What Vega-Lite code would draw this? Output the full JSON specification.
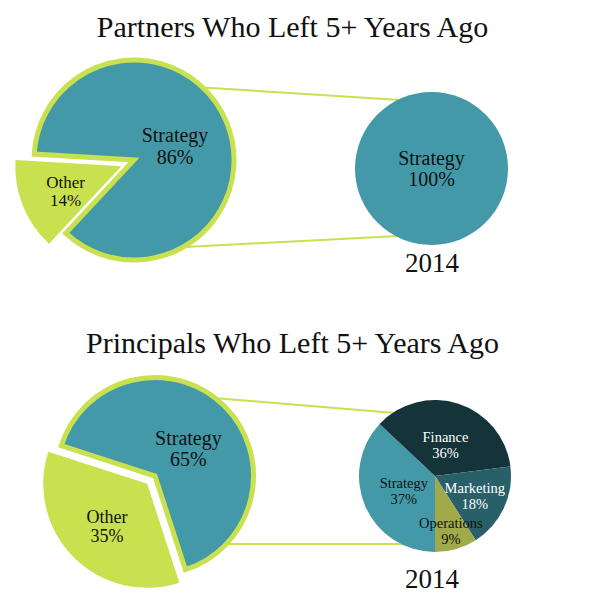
{
  "$schema": "https://vega.github.io/schema/vega-lite/v6.json",
  "width": 595,
  "height": 609,
  "padding": 0,
  "autosize": {"type": "none"},
  "background": "#ffffff",
  "config": {"view": {"stroke": null}, "text": {"font": "Liberation Serif"}},
  "datasets": {
    "slices": [
      {"group": "Partners", "pie": "5+ years ago", "category": "Strategy", "value": 86},
      {"group": "Partners", "pie": "5+ years ago", "category": "Other", "value": 14},
      {"group": "Partners", "pie": "2014", "category": "Strategy", "value": 100},
      {"group": "Principals", "pie": "5+ years ago", "category": "Strategy", "value": 65},
      {"group": "Principals", "pie": "5+ years ago", "category": "Other", "value": 35},
      {"group": "Principals", "pie": "2014", "category": "Strategy", "value": 37},
      {"group": "Principals", "pie": "2014", "category": "Finance", "value": 36},
      {"group": "Principals", "pie": "2014", "category": "Marketing", "value": 18},
      {"group": "Principals", "pie": "2014", "category": "Operations", "value": 9}
    ],
    "groups": [
      {"group": "Partners", "title": "Partners Who Left 5+ Years Ago", "pie": "2014"},
      {"group": "Principals", "title": "Principals Who Left 5+ Years Ago", "pie": "2014"}
    ]
  },
  "data": {"name": "slices"},
  "transform": [
    {"stack": "value", "groupby": ["group", "pie"], "sort": [{"field": "category", "order": "ascending"}], "as": ["v0", "v1"]},
    {"calculate": "(datum.v0 + datum.v1) / 2", "as": "mid"},
    {"calculate": "datum.category + '\\n' + datum.value + '%'", "as": "label"}
  ],
  "resolve": {"scale": {"theta": "independent"}},
  "layer": [
    {
      "data": {"name": "groups"},
      "transform": [{"filter": "datum.group === 'Partners'"}],
      "mark": {"type": "rule", "color": "#c9e14f", "strokeWidth": 2, "xOffset": 61, "x2Offset": -32, "yOffset": -73, "y2Offset": -60},
      "encoding": {
        "x": {"datum": "5+ years ago", "type": "nominal", "scale": {"type": "point", "domain": ["5+ years ago", "2014"], "range": [134, 432], "padding": 0}, "axis": null},
        "x2": {"datum": "2014"},
        "y": {"field": "group", "type": "nominal", "scale": {"type": "point", "domain": ["Partners", "Principals"], "range": [160, 476], "padding": 0}, "axis": null},
        "y2": {"field": "group"}
      }
    },
    {
      "data": {"name": "groups"},
      "transform": [{"filter": "datum.group === 'Partners'"}],
      "mark": {"type": "rule", "color": "#c9e14f", "strokeWidth": 2, "xOffset": 51, "x2Offset": -34, "yOffset": 87, "y2Offset": 76},
      "encoding": {
        "x": {"datum": "5+ years ago", "type": "nominal"},
        "x2": {"datum": "2014"},
        "y": {"field": "group", "type": "nominal"},
        "y2": {"field": "group"}
      }
    },
    {
      "data": {"name": "groups"},
      "transform": [{"filter": "datum.group === 'Principals'"}],
      "mark": {"type": "rule", "color": "#c9e14f", "strokeWidth": 2, "xOffset": 80, "x2Offset": -37, "yOffset": -78, "y2Offset": -63},
      "encoding": {
        "x": {"datum": "5+ years ago", "type": "nominal"},
        "x2": {"datum": "2014"},
        "y": {"field": "group", "type": "nominal"},
        "y2": {"field": "group"}
      }
    },
    {
      "data": {"name": "groups"},
      "transform": [{"filter": "datum.group === 'Principals'"}],
      "mark": {"type": "rule", "color": "#c9e14f", "strokeWidth": 2, "xOffset": 94, "x2Offset": -29, "yOffset": 68, "y2Offset": 68},
      "encoding": {
        "x": {"datum": "5+ years ago", "type": "nominal"},
        "x2": {"datum": "2014"},
        "y": {"field": "group", "type": "nominal"},
        "y2": {"field": "group"}
      }
    },
    {
      "transform": [{"filter": "datum.group === 'Partners' && datum.pie === '5+ years ago' && datum.category === 'Strategy'"}],
      "mark": {"type": "arc", "outerRadius": 100, "stroke": "#c9e14f", "strokeWidth": 5},
      "encoding": {
        "x": {"field": "pie", "type": "nominal"},
        "y": {"field": "group", "type": "nominal"},
        "theta": {"field": "v0", "type": "quantitative", "scale": {"domain": [0, 100], "range": [3.8921, 10.1753]}},
        "theta2": {"field": "v1"},
        "color": {"field": "category", "type": "nominal", "scale": {"domain": ["Strategy", "Other", "Finance", "Marketing", "Operations"], "range": ["#4399a7", "#c9e14f", "#15343a", "#295f68", "#a0aa4b"]}, "legend": null}
      }
    },
    {
      "transform": [{"filter": "datum.group === 'Partners' && datum.pie === '5+ years ago' && datum.category === 'Other'"}],
      "mark": {"type": "arc", "outerRadius": 106, "xOffset": -12.7, "yOffset": 6.3},
      "encoding": {
        "x": {"field": "pie", "type": "nominal"},
        "y": {"field": "group", "type": "nominal"},
        "theta": {"field": "v0", "type": "quantitative", "scale": {"domain": [0, 100], "range": [3.8921, 10.1753]}},
        "theta2": {"field": "v1"},
        "color": {"field": "category", "type": "nominal"}
      }
    },
    {
      "transform": [{"filter": "datum.group === 'Partners' && datum.pie === '2014'"}],
      "mark": {"type": "arc", "outerRadius": 76.5, "xOffset": -0.5, "yOffset": 8.5},
      "encoding": {
        "x": {"field": "pie", "type": "nominal"},
        "y": {"field": "group", "type": "nominal"},
        "theta": {"field": "v0", "type": "quantitative", "scale": {"domain": [0, 100], "range": [0, 6.2832]}},
        "theta2": {"field": "v1"},
        "color": {"field": "category", "type": "nominal"}
      }
    },
    {
      "transform": [{"filter": "datum.group === 'Principals' && datum.pie === '5+ years ago' && datum.category === 'Strategy'"}],
      "mark": {"type": "arc", "outerRadius": 98.5, "stroke": "#c9e14f", "strokeWidth": 5, "xOffset": 21},
      "encoding": {
        "x": {"field": "pie", "type": "nominal"},
        "y": {"field": "group", "type": "nominal"},
        "theta": {"field": "v0", "type": "quantitative", "scale": {"domain": [0, 100], "range": [2.8274, 9.1106]}},
        "theta2": {"field": "v1"},
        "color": {"field": "category", "type": "nominal"}
      }
    },
    {
      "transform": [{"filter": "datum.group === 'Principals' && datum.pie === '5+ years ago' && datum.category === 'Other'"}],
      "mark": {"type": "arc", "outerRadius": 104, "xOffset": 13.2, "yOffset": 7.8},
      "encoding": {
        "x": {"field": "pie", "type": "nominal"},
        "y": {"field": "group", "type": "nominal"},
        "theta": {"field": "v0", "type": "quantitative", "scale": {"domain": [0, 100], "range": [2.8274, 9.1106]}},
        "theta2": {"field": "v1"},
        "color": {"field": "category", "type": "nominal"}
      }
    },
    {
      "transform": [{"filter": "datum.group === 'Principals' && datum.pie === '2014'"}],
      "mark": {"type": "arc", "outerRadius": 76, "xOffset": 3},
      "encoding": {
        "x": {"field": "pie", "type": "nominal"},
        "y": {"field": "group", "type": "nominal"},
        "theta": {"field": "v0", "type": "quantitative", "scale": {"domain": [0, 100], "range": [5.4664, 11.7496]}},
        "theta2": {"field": "v1"},
        "color": {"field": "category", "type": "nominal"}
      }
    },
    {
      "transform": [{"filter": "datum.group === 'Partners' && datum.pie === '5+ years ago' && datum.category === 'Strategy'"}],
      "mark": {"type": "text", "radius": 42, "fontSize": 20, "lineHeight": 22, "lineBreak": "\n", "color": "#111111", "xOffset": 2, "yOffset": -8},
      "encoding": {
        "x": {"field": "pie", "type": "nominal"},
        "y": {"field": "group", "type": "nominal"},
        "theta": {"field": "mid", "type": "quantitative", "scale": {"domain": [0, 100], "range": [3.8921, 10.1753]}},
        "text": {"field": "label", "type": "nominal"}
      }
    },
    {
      "transform": [{"filter": "datum.group === 'Partners' && datum.pie === '5+ years ago' && datum.category === 'Other'"}],
      "mark": {"type": "text", "radius": 60, "fontSize": 17, "lineHeight": 18, "lineBreak": "\n", "color": "#111111", "xOffset": -12.7, "yOffset": 0.3},
      "encoding": {
        "x": {"field": "pie", "type": "nominal"},
        "y": {"field": "group", "type": "nominal"},
        "theta": {"field": "mid", "type": "quantitative", "scale": {"domain": [0, 100], "range": [3.8921, 10.1753]}},
        "text": {"field": "label", "type": "nominal"}
      }
    },
    {
      "transform": [{"filter": "datum.group === 'Partners' && datum.pie === '2014'"}],
      "mark": {"type": "text", "radius": 0, "fontSize": 20, "lineHeight": 21, "lineBreak": "\n", "color": "#111111", "xOffset": -0.5, "yOffset": -1},
      "encoding": {
        "x": {"field": "pie", "type": "nominal"},
        "y": {"field": "group", "type": "nominal"},
        "theta": {"field": "mid", "type": "quantitative", "scale": {"domain": [0, 100], "range": [0, 6.2832]}},
        "text": {"field": "label", "type": "nominal"}
      }
    },
    {
      "transform": [{"filter": "datum.group === 'Principals' && datum.pie === '5+ years ago' && datum.category === 'Strategy'"}],
      "mark": {"type": "text", "radius": 43, "fontSize": 20, "lineHeight": 21, "lineBreak": "\n", "color": "#111111", "xOffset": 24, "yOffset": -7},
      "encoding": {
        "x": {"field": "pie", "type": "nominal"},
        "y": {"field": "group", "type": "nominal"},
        "theta": {"field": "mid", "type": "quantitative", "scale": {"domain": [0, 100], "range": [2.8274, 9.1106]}},
        "text": {"field": "label", "type": "nominal"}
      }
    },
    {
      "transform": [{"filter": "datum.group === 'Principals' && datum.pie === '5+ years ago' && datum.category === 'Other'"}],
      "mark": {"type": "text", "radius": 57, "fontSize": 18, "lineHeight": 19, "lineBreak": "\n", "color": "#111111", "xOffset": 13.2, "yOffset": 1.8},
      "encoding": {
        "x": {"field": "pie", "type": "nominal"},
        "y": {"field": "group", "type": "nominal"},
        "theta": {"field": "mid", "type": "quantitative", "scale": {"domain": [0, 100], "range": [2.8274, 9.1106]}},
        "text": {"field": "label", "type": "nominal"}
      }
    },
    {
      "transform": [{"filter": "datum.group === 'Principals' && datum.pie === '2014' && (datum.category === 'Finance' || datum.category === 'Strategy')"}],
      "mark": {"type": "text", "radius": 34, "fontSize": 14.5, "lineHeight": 16, "lineBreak": "\n", "xOffset": 3, "yOffset": -6},
      "encoding": {
        "x": {"field": "pie", "type": "nominal"},
        "y": {"field": "group", "type": "nominal"},
        "theta": {"field": "mid", "type": "quantitative", "scale": {"domain": [0, 100], "range": [5.4664, 11.7496]}},
        "text": {"field": "label", "type": "nominal"},
        "color": {"condition": {"test": "datum.category === 'Finance'", "value": "#ffffff"}, "value": "#111111"}
      }
    },
    {
      "transform": [{"filter": "datum.group === 'Principals' && datum.pie === '2014' && datum.category === 'Marketing'"}],
      "mark": {"type": "text", "radius": 44, "fontSize": 14.5, "lineHeight": 16, "lineBreak": "\n", "color": "#ffffff", "xOffset": 3, "yOffset": -6},
      "encoding": {
        "x": {"field": "pie", "type": "nominal"},
        "y": {"field": "group", "type": "nominal"},
        "theta": {"field": "mid", "type": "quantitative", "scale": {"domain": [0, 100], "range": [5.4664, 11.7496]}},
        "text": {"field": "label", "type": "nominal"}
      }
    },
    {
      "transform": [{"filter": "datum.group === 'Principals' && datum.pie === '2014' && datum.category === 'Operations'"}],
      "mark": {"type": "text", "radius": 57, "fontSize": 14.5, "lineHeight": 16, "lineBreak": "\n", "color": "#111111", "xOffset": 3, "yOffset": -7},
      "encoding": {
        "x": {"field": "pie", "type": "nominal"},
        "y": {"field": "group", "type": "nominal"},
        "theta": {"field": "mid", "type": "quantitative", "scale": {"domain": [0, 100], "range": [5.4664, 11.7496]}},
        "text": {"field": "label", "type": "nominal"}
      }
    },
    {
      "data": {"name": "groups"},
      "mark": {"type": "text", "fontSize": 30, "baseline": "alphabetic", "color": "#111111", "xOffset": -5, "yOffset": -123},
      "encoding": {
        "y": {"field": "group", "type": "nominal"},
        "text": {"field": "title", "type": "nominal"}
      }
    },
    {
      "data": {"name": "groups"},
      "mark": {"type": "text", "fontSize": 27, "baseline": "alphabetic", "color": "#111111", "yOffset": 112},
      "encoding": {
        "x": {"field": "pie", "type": "nominal"},
        "y": {"field": "group", "type": "nominal"},
        "text": {"field": "pie", "type": "nominal"}
      }
    }
  ]
}
